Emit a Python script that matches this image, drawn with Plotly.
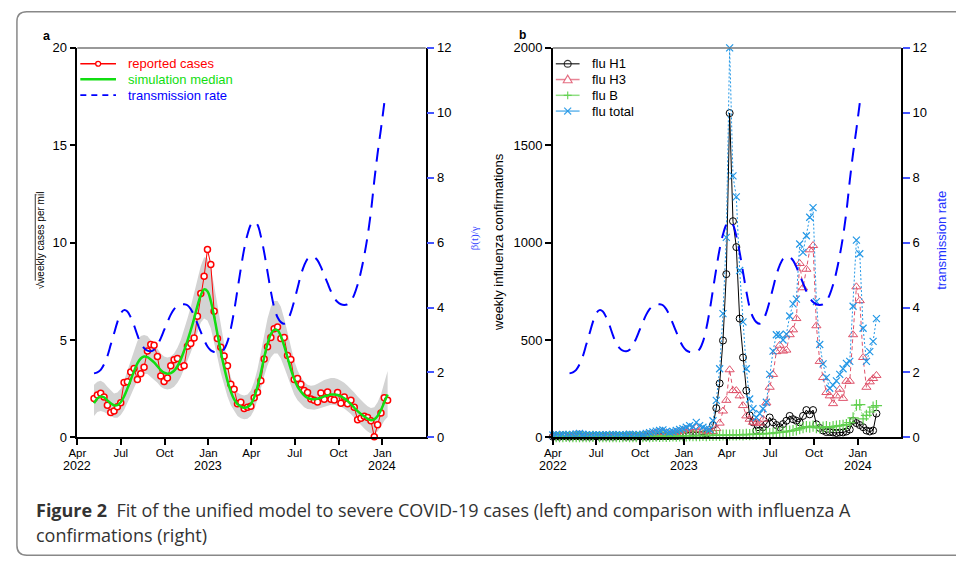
import plotly.graph_objects as go
import pandas as pd

# ---------------- data: left panel (weekly, from 2022-05-06) ----------------
reported_cases = [2.0, 2.17, 2.27, 2.07, 1.65, 1.28, 1.35, 1.57, 1.77, 2.82,
                  2.85, 3.35, 3.53, 2.97, 3.27, 3.6, 4.43, 4.77, 4.73, 4.15,
                  3.15, 2.87, 3.05, 3.67, 3.98, 4.05, 3.6, 3.67, 4.68, 4.82,
                  5.1, 6.22, 7.38, 8.27, 9.65, 8.87, 6.47, 5.08, 4.63, 4.18,
                  3.68, 2.73, 2.47, 1.73, 1.8, 1.48, 1.55, 1.6, 2.03, 2.32,
                  2.9, 4.02, 4.65, 5.13, 5.57, 5.67, 5.08, 5.13, 4.2, 4.0,
                  2.97, 3.02, 2.73, 2.4, 2.3, 1.97, 1.9, 1.82, 2.28, 1.95,
                  2.33, 1.95, 1.92, 2.3, 1.75, 2.07, 1.73, 1.9, 1.55, 0.9,
                  0.98, 1.08, 1.02, 0.85, 0.03, 0.65, 1.25, 2.03, 1.9]
sim_median = [1.75, 2.0, 2.1, 2.05, 1.9, 1.75, 1.65, 1.65, 1.8, 2.1,
              2.5, 2.95, 3.4, 3.8, 4.05, 4.15, 4.12, 4.0, 3.85, 3.65,
              3.45, 3.32, 3.27, 3.3, 3.42, 3.65, 4.0, 4.45, 4.95, 5.5,
              6.1, 6.75, 7.3, 7.6, 7.5, 7.0, 6.2, 5.3, 4.4, 3.6,
              2.9, 2.35, 1.95, 1.7, 1.58, 1.52, 1.55, 1.7, 2.05, 2.6,
              3.3, 4.1, 4.8, 5.3, 5.52, 5.5, 5.2, 4.7, 4.1, 3.5,
              3.0, 2.6, 2.35, 2.15, 2.02, 1.97, 1.96, 1.98, 2.03, 2.1,
              2.15, 2.2, 2.2, 2.17, 2.1, 2.0, 1.87, 1.7, 1.52, 1.35,
              1.2, 1.07, 0.95, 0.88, 0.92, 1.1, 1.4, 1.8, 2.2]
sim_upper = [2.7, 2.85, 2.9, 2.8, 2.6, 2.4, 2.25, 2.3, 2.5, 2.9,
             3.4, 3.95, 4.5, 4.95, 5.2, 5.25, 5.2, 5.0, 4.8, 4.55,
             4.3, 4.15, 4.1, 4.15, 4.3, 4.6, 5.0, 5.5, 6.1, 6.7,
             7.35, 8.1, 8.8, 9.25, 9.2, 8.7, 7.8, 6.8, 5.7, 4.7,
             3.8, 3.1, 2.6, 2.3, 2.2, 2.15, 2.2, 2.4, 2.85, 3.5,
             4.4, 5.3, 6.1, 6.7, 7.0, 7.0, 6.7, 6.1, 5.4, 4.6,
             3.95, 3.45, 3.1, 2.85, 2.7, 2.65, 2.68, 2.75, 2.85, 2.95,
             3.0, 3.05, 3.05, 3.0, 2.9, 2.8, 2.65, 2.5, 2.3, 2.1,
             1.9, 1.75, 1.6, 1.5, 1.55, 1.8, 2.2, 2.8, 3.4]
sim_lower = [1.1, 1.3, 1.35, 1.3, 1.2, 1.1, 1.0, 1.0, 1.15, 1.4,
             1.75, 2.15, 2.55, 2.9, 3.15, 3.25, 3.25, 3.1, 2.95, 2.8,
             2.6, 2.5, 2.45, 2.5, 2.6, 2.8, 3.1, 3.5, 3.9, 4.35,
             4.85, 5.4, 5.9, 6.1, 6.0, 5.6, 4.9, 4.1, 3.3, 2.65,
             2.1, 1.65, 1.35, 1.1, 0.98, 0.93, 0.95, 1.1, 1.4, 1.9,
             2.5, 3.15, 3.7, 4.1, 4.3, 4.3, 4.05, 3.6, 3.1, 2.6,
             2.2, 1.9, 1.7, 1.55, 1.45, 1.42, 1.42, 1.45, 1.5, 1.58,
             1.63, 1.67, 1.67, 1.63, 1.57, 1.48, 1.35, 1.2, 1.0, 0.8,
             0.6, 0.45, 0.3, 0.2, 0.15, 0.3, 0.55, 0.85, 1.05]
transmission_rate = [1.97, 2.0, 2.08, 2.25, 2.5, 2.85, 3.2, 3.55, 3.82, 3.92,
                     3.88, 3.7, 3.45, 3.15, 2.9, 2.75, 2.67, 2.65, 2.7, 2.85,
                     3.05, 3.3, 3.55, 3.78, 3.95, 4.05, 4.1, 4.1, 4.07, 3.95,
                     3.75, 3.5, 3.25, 3.0, 2.8, 2.68, 2.63, 2.62, 2.63, 2.72,
                     2.95, 3.35, 3.9, 4.55, 5.2, 5.8, 6.25, 6.55, 6.65, 6.55,
                     6.2, 5.7, 5.1, 4.5, 4.0, 3.7, 3.55, 3.5, 3.6, 3.85,
                     4.2, 4.6, 5.0, 5.3, 5.5, 5.57, 5.55, 5.45, 5.25, 5.0,
                     4.75, 4.5, 4.3, 4.17, 4.1, 4.08, 4.1, 4.2, 4.4, 4.7,
                     5.1, 5.6, 6.2, 6.95, 7.9, 8.75, 9.5, 10.3]

# ---------------- data: right panel (weekly, from 2022-04-01) ----------------
flu_h1 = ([3, 4, 3, 5, 4, 3, 4, 5, 4, 3, 4, 3, 4, 5, 3, 4, 3, 4, 3, 4,
           5, 4, 3, 4, 3, 4, 5, 4, 3, 4, 5, 4, 5, 6, 5, 6, 7, 6, 8]
          + [8, 10, 9, 12, 10, 11, 14, 18, 25]
          + [63, 150, 277, 497, 838, 1665, 1110, 977, 610, 410, 240]
          + [113, 77, 35, 35, 52, 68, 102, 77, 63, 52, 68, 85]
          + [110, 93, 85, 77, 110, 140, 118, 140]
          + [67, 48, 35, 27, 27, 25, 22, 25, 25, 30, 40, 85, 73, 63, 52, 35, 30, 35, 122])
flu_h3 = ([8, 10, 9, 12, 10, 9, 11, 14, 16, 12, 10, 9, 8, 10, 9, 8, 10, 9, 11, 10,
           9, 8, 10, 12, 11, 9, 10, 12, 14, 16, 18, 22, 25, 28, 22, 18, 20, 25, 30]
          + [35, 40, 45, 38, 50, 42, 35, 30, 28, 30, 45]
          + [73, 135, 190, 347, 240, 240, 213, 163, 110, 93, 77, 73, 73, 93, 177, 257, 323]
          + [440, 473, 443, 448, 527, 552, 610, 893, 768, 863, 963, 985]
          + [573, 390, 307, 230, 213, 173, 213, 247, 200, 288, 288, 527, 773, 702, 410, 257, 285, 302, 318])
flu_b = ([3, 4, 3, 4, 5, 4, 3, 4, 3, 4, 3, 4, 5, 4, 3, 4, 3, 4, 3, 4,
          3, 4, 5, 4, 3, 4, 3, 4, 5, 4, 5, 6, 5, 6, 5, 6, 7, 6, 7, 8,
          7, 8, 9, 8, 9, 10, 9, 10]
         + [10, 11, 10, 12, 11, 12, 13, 12, 14, 13, 15, 14, 16]
         + [15, 17, 18, 20, 19, 22, 24, 25, 27, 30]
         + [32, 35, 38, 45, 50, 55, 52, 58, 50, 48]
         + [52, 55, 50, 55, 58, 60, 62, 65, 75, 100]
         + [165, 168, 95, 113, 130, 155, 163])
flu_total = ([12, 14, 13, 15, 14, 12, 15, 18, 20, 16, 14, 13, 12, 14, 13, 12, 14, 13, 15, 14,
              13, 12, 14, 16, 15, 13, 14, 16, 20, 24, 28, 32, 35, 38, 30, 26, 30, 35, 40]
             + [45, 52, 60, 55, 77, 60, 52, 45, 40, 85]
             + [190, 352, 635, 1027, 2000, 1343, 1235, 857, 593, 352]
             + [197, 147, 102, 122, 147, 180, 323, 443, 527, 527, 500, 530]
             + [623, 685, 710, 993, 950, 1035, 1130, 1180, 697, 477]
             + [377, 307, 252, 268, 290, 323, 352, 380, 390, 673, 1013, 943, 560, 390, 440, 493, 610])

tick_dates = ['2022-04-01', '2022-07-01', '2022-10-01', '2023-01-01',
              '2023-04-01', '2023-07-01', '2023-10-01', '2024-01-01']
tick_months = ['Apr', 'Jul', 'Oct', 'Jan', 'Apr', 'Jul', 'Oct', 'Jan']
year_dates = ['2022-04-01', '2023-01-01', '2024-01-01']
year_labels = ['2022', '2023', '2024']

left_dates = pd.date_range('2022-05-06', periods=len(reported_cases), freq='7D')
right_dates = pd.date_range('2022-04-01', periods=len(flu_total), freq='7D')

# ---------------- geometry helpers ----------------
W, H = 956, 568
def px(x):
    return x / W
def py(y):
    return 1 - y / H

FONT = 'Liberation Sans, Arial, sans-serif'
RED = '#FF0000'
GREEN = '#11DD11'
BLUE = '#0000FF'
C_H1, C_H3, C_B, C_TOT = '#000000', '#DF536B', '#61D04F', '#2297E6'

fig = go.Figure()

# ---- left panel ----
fig.add_trace(go.Scatter(x=left_dates, y=sim_lower, mode='lines', line=dict(width=0),
                         showlegend=False, hoverinfo='skip', xaxis='x', yaxis='y'))
fig.add_trace(go.Scatter(x=left_dates, y=sim_upper, mode='lines', line=dict(width=0),
                         fill='tonexty', fillcolor='#D3D3D3', showlegend=False,
                         hoverinfo='skip', xaxis='x', yaxis='y'))
fig.add_trace(go.Scatter(x=left_dates, y=reported_cases, mode='lines+markers',
                         line=dict(color=RED, width=1),
                         marker=dict(symbol='circle', size=6, color='white',
                                     line=dict(color=RED, width=1.5)),
                         showlegend=False, cliponaxis=False, xaxis='x', yaxis='y'))
fig.add_trace(go.Scatter(x=left_dates, y=sim_median, mode='lines',
                         line=dict(color=GREEN, width=2.5, shape='spline'),
                         showlegend=False, xaxis='x', yaxis='y'))
fig.add_trace(go.Scatter(x=left_dates[:len(transmission_rate)], y=transmission_rate, mode='lines',
                         line=dict(color=BLUE, width=2, dash='14px,9px', shape='spline'),
                         showlegend=False, xaxis='x', yaxis='y2'))

# ---- right panel ----
fig.add_trace(go.Scatter(x=right_dates, y=flu_h1, mode='lines+markers',
                         line=dict(color=C_H1, width=1),
                         marker=dict(symbol='circle-open', size=7, color=C_H1, line=dict(width=1)),
                         showlegend=False, cliponaxis=False, xaxis='x2', yaxis='y3'))
fig.add_trace(go.Scatter(x=right_dates, y=flu_h3, mode='lines+markers',
                         line=dict(color=C_H3, width=1, dash='4px,3px'),
                         marker=dict(symbol='triangle-up-open', size=8, color=C_H3, line=dict(width=1)),
                         showlegend=False, cliponaxis=False, xaxis='x2', yaxis='y3'))
fig.add_trace(go.Scatter(x=right_dates, y=flu_b, mode='lines+markers',
                         line=dict(color=C_B, width=1, dash='1px,2px'),
                         marker=dict(symbol='cross-thin', size=8, color=C_B,
                                     line=dict(color=C_B, width=1.2)),
                         showlegend=False, cliponaxis=False, xaxis='x2', yaxis='y3'))
fig.add_trace(go.Scatter(x=right_dates, y=flu_total, mode='lines+markers',
                         line=dict(color=C_TOT, width=1, dash='2px,2px'),
                         marker=dict(symbol='x-thin', size=7, color=C_TOT,
                                     line=dict(color=C_TOT, width=1.2)),
                         showlegend=False, cliponaxis=False, xaxis='x2', yaxis='y3'))
fig.add_trace(go.Scatter(x=left_dates[:len(transmission_rate)], y=transmission_rate, mode='lines',
                         line=dict(color=BLUE, width=2, dash='14px,9px', shape='spline'),
                         showlegend=False, xaxis='x2', yaxis='y4'))

# ---------------- axes ----------------
ydom = [py(442), py(42)]
xl = [px(69), px(420.7)]
xr = [px(549), px(900.7)]

def xax(domain, anchor):
    return dict(domain=domain, anchor=anchor, type='date',
                range=['2022-04-01', '2024-04-01'],
                tickmode='array', tickvals=tick_dates, ticktext=tick_months,
                ticks='outside', ticklen=6, tickwidth=1.5, tickcolor='black',
                ticklabelstandoff=-2,
                showline=True, linecolor='black', linewidth=1.5,
                showgrid=False, zeroline=False,
                tickfont=dict(family=FONT, size=11.5, color='black'))

def yleft(anchor, rng, vals):
    return dict(domain=ydom, anchor=anchor, range=rng, tickmode='array', tickvals=vals,
                ticks='outside', ticklen=6, tickwidth=1.5, tickcolor='black',
                showline=True, linecolor='black', linewidth=1.5,
                showgrid=False, zeroline=False,
                tickfont=dict(family=FONT, size=13, color='black'))

def yright(over, anchor):
    return dict(overlaying=over, side='right', anchor=anchor, range=[0, 12],
                tickmode='array', tickvals=[0, 2, 4, 6, 8, 10, 12],
                ticks='outside', ticklen=7, tickwidth=1.5, tickcolor='#4455FF',
                showline=True, linecolor='black', linewidth=1.5,
                showgrid=False, zeroline=False,
                tickfont=dict(family=FONT, size=13, color='black'))

annotations = []
shapes = []

for d, lab in zip(year_dates, year_labels):
    for xr_ in ('x', 'x2'):
        annotations.append(dict(x=d, y=py(471), xref=xr_, yref='paper', text=lab, showarrow=False,
                                font=dict(family=FONT, size=12.5, color='black'),
                                xanchor='center', yanchor='middle'))

# panel labels
annotations.append(dict(x=px(38), y=py(30), xref='paper', yref='paper', text='<b>a</b>',
                        showarrow=False, font=dict(family=FONT, size=12.5, color='black'),
                        xanchor='center', yanchor='middle'))
annotations.append(dict(x=px(518), y=py(29), xref='paper', yref='paper', text='<b>b</b>',
                        showarrow=False, font=dict(family=FONT, size=12, color='black'),
                        xanchor='center', yanchor='middle'))

# axis titles
annotations.append(dict(x=px(32), y=py(240), xref='paper', yref='paper',
                        text='\u221aweekly cases per mil', textangle=-90, showarrow=False,
                        font=dict(family=FONT, size=10, color='black'),
                        xanchor='center', yanchor='middle'))
shapes.append(dict(type='line', xref='paper', yref='paper', x0=px(26.5), x1=px(26.5),
                   y0=py(192), y1=py(281), line=dict(color='black', width=0.8)))
annotations.append(dict(x=px(470), y=py(238), xref='paper', yref='paper',
                        text='\u03b2(t)/\u03b3', textangle=-90, showarrow=False,
                        font=dict(family='Liberation Serif, DejaVu Serif, serif', size=11, color='#3344FF'),
                        xanchor='center', yanchor='middle'))
annotations.append(dict(x=px(494), y=py(241), xref='paper', yref='paper',
                        text='weekly influenza confirmations', textangle=-90, showarrow=False,
                        font=dict(family=FONT, size=13, color='black'),
                        xanchor='center', yanchor='middle'))
annotations.append(dict(x=px(942), y=py(240), xref='paper', yref='paper',
                        text='transmission rate', textangle=-90, showarrow=False,
                        font=dict(family=FONT, size=13, color='#2233FF'),
                        xanchor='center', yanchor='middle'))

# top gray box lines
for x0, x1 in [(69, 420.7), (549, 900.7)]:
    shapes.append(dict(type='line', xref='paper', yref='paper', x0=px(x0), x1=px(x1),
                       y0=py(42), y1=py(42), line=dict(color='#777777', width=1.5)))

# ---------------- legends (drawn) ----------------
def leg_line(x0, x1, y, color, width=1.5, dash='solid'):
    shapes.append(dict(type='line', xref='paper', yref='paper', x0=px(x0), x1=px(x1),
                       y0=py(y), y1=py(y), line=dict(color=color, width=width, dash=dash)))

def leg_text(x, y, text, color):
    annotations.append(dict(x=px(x), y=py(y), xref='paper', yref='paper', text=text,
                            showarrow=False, font=dict(family=FONT, size=13, color=color),
                            xanchor='left', yanchor='middle'))

def path_shape(points_cmds, color, width=1.2, fill=None):
    d = ''
    for cmd, x, y in points_cmds:
        d += f'{cmd} {px(x):.5f},{py(y):.5f} '
    if fill:
        d += 'Z'
    shapes.append(dict(type='path', xref='paper', yref='paper', path=d.strip(),
                       line=dict(color=color, width=width),
                       fillcolor=fill if fill else 'rgba(0,0,0,0)'))

# left legend
ly = [58.3, 74.3, 90.5]
leg_line(72, 108, ly[0], RED, 1.5)
shapes.append(dict(type='circle', xref='paper', yref='paper', x0=px(87.5), x1=px(92.5),
                   y0=py(ly[0] + 2.5), y1=py(ly[0] - 2.5), line=dict(color=RED, width=1.3),
                   fillcolor='white'))
leg_text(118, ly[0], 'reported cases', RED)
leg_line(72, 108, ly[1], GREEN, 2.5)
leg_text(118, ly[1], 'simulation median', GREEN)
leg_line(72, 108, ly[2], BLUE, 1.8, '6px,5px')
leg_text(118, ly[2], 'transmission rate', BLUE)

# right legend
ry = [58.3, 74.5, 90.7, 106.9]
cx = 564
leg_line(552, 576, ry[0], 'rgba(0,0,0,0.7)', 1.5)
shapes.append(dict(type='circle', xref='paper', yref='paper', x0=px(cx - 3.5), x1=px(cx + 3.5),
                   y0=py(ry[0] + 3.5), y1=py(ry[0] - 3.5), line=dict(color='rgba(0,0,0,0.75)', width=1.1),
                   fillcolor='rgba(0,0,0,0)'))
leg_text(587, ry[0], 'flu H1', 'black')
leg_line(552, 576, ry[1], 'rgba(223,83,107,0.7)', 1.5)
path_shape([('M', cx - 4.5, ry[1] + 3.3), ('L', cx + 4.5, ry[1] + 3.3), ('L', cx, ry[1] - 4.5)],
           'rgba(223,83,107,0.85)', 1.1, fill='white')
leg_text(587, ry[1], 'flu H3', 'black')
leg_line(552, 576, ry[2], 'rgba(97,208,79,0.7)', 1.5)
path_shape([('M', cx - 4, ry[2]), ('L', cx + 4, ry[2]), ('M', cx, ry[2] - 4), ('L', cx, ry[2] + 4)],
           'rgba(97,208,79,0.9)', 1.2)
leg_text(587, ry[2], 'flu B', 'black')
leg_line(552, 576, ry[3], 'rgba(34,151,230,0.7)', 1.5)
path_shape([('M', cx - 3.5, ry[3] - 3.5), ('L', cx + 3.5, ry[3] + 3.5), ('M', cx - 3.5, ry[3] + 3.5),
            ('L', cx + 3.5, ry[3] - 3.5)], 'rgba(34,151,230,0.9)', 1.2)
leg_text(587, ry[3], 'flu total', 'black')

# ---------------- outer frame and caption ----------------
frame = (f'M {px(980):.5f},{py(5):.5f} L {px(18):.5f},{py(5):.5f} '
         f'Q {px(8):.5f},{py(5):.5f} {px(8):.5f},{py(15):.5f} '
         f'L {px(8):.5f},{py(553):.5f} Q {px(8):.5f},{py(563):.5f} {px(18):.5f},{py(563):.5f} '
         f'L {px(980):.5f},{py(563):.5f}')
shapes.append(dict(type='path', xref='paper', yref='paper', path=frame,
                   line=dict(color='#888888', width=1.5), fillcolor='rgba(0,0,0,0)'))

CAP_FONT = 'Open Sans, Noto Sans, sans-serif'
annotations.append(dict(x=px(25), y=py(517), xref='paper', yref='paper',
                        text='<b>Figure 2</b>  Fit of the unified model to severe COVID-19 cases (left) '
                             'and comparison with influenza A',
                        showarrow=False, font=dict(family=CAP_FONT, size=18, color='#333333'),
                        xanchor='left', yanchor='middle'))
annotations.append(dict(x=px(25), y=py(542), xref='paper', yref='paper',
                        text='confirmations (right)',
                        showarrow=False, font=dict(family=CAP_FONT, size=18, color='#333333'),
                        xanchor='left', yanchor='middle'))

fig.update_layout(
    width=W, height=H, margin=dict(l=0, r=0, t=0, b=0),
    paper_bgcolor='white', plot_bgcolor='white', showlegend=False,
    xaxis=xax(xl, 'y'), yaxis=yleft('x', [0, 20], [0, 5, 10, 15, 20]), yaxis2=yright('y', 'x'),
    xaxis2=xax(xr, 'y3'), yaxis3=yleft('x2', [0, 2000], [0, 500, 1000, 1500, 2000]),
    yaxis4=yright('y3', 'x2'),
    annotations=annotations, shapes=shapes,
    font=dict(family=FONT, color='black'),
)

fig.write_html('out.html')
